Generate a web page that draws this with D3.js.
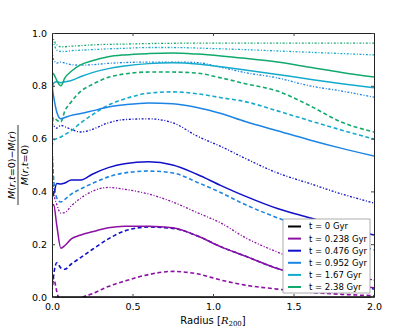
<!DOCTYPE html>
<html>
<head>
<meta charset="utf-8">
<script src="https://cdn.jsdelivr.net/npm/d3@7"></script>
<style>
  body { margin: 0; background: #fff; }
  text { font-family: "DejaVu Sans", sans-serif; }
</style>
</head>
<body>
<div id="chart"></div>
<script>
// set the dimensions and margins of the graph
var width = 415,
  height = 332;
var margin = { top: 33, right: 41, bottom: 35, left: 52 };

// radius grid (R200) shared by all curves
var radius = [0, 0.01, 0.03, 0.055, 0.08, 0.12, 0.18, 0.25, 0.35, 0.45, 0.6, 0.75, 0.9, 1.05, 1.2, 1.4, 1.6, 1.8, 2.0];

// snapshot times and their colours
var times = ["0", "0.238", "0.476", "0.952", "1.67", "2.38"];
var colors = ["#000000", "#8c10a4", "#1010c8", "#1c84e4", "#14aacb", "#12a96c"];

// solid curves, one row per time
var solidValues = [
  [0, 0, 0, 0, 0, 0, 0, 0, 0, 0, 0, 0, 0, 0, 0, 0, 0, 0, 0],
  [0.34, 0.35, 0.27, 0.185, 0.195, 0.22, 0.235, 0.247, 0.262, 0.268, 0.268, 0.262, 0.232, 0.19, 0.155, 0.108, 0.075, 0.05, 0.035],
  [0.375, 0.39, 0.43, 0.428, 0.432, 0.443, 0.443, 0.465, 0.49, 0.505, 0.512, 0.5, 0.465, 0.422, 0.382, 0.335, 0.3, 0.265, 0.235],
  [0.8, 0.76, 0.7, 0.675, 0.68, 0.688, 0.695, 0.705, 0.72, 0.728, 0.735, 0.732, 0.718, 0.695, 0.665, 0.63, 0.595, 0.563, 0.534],
  [0.78, 0.81, 0.815, 0.812, 0.815, 0.82, 0.835, 0.85, 0.865, 0.875, 0.884, 0.887, 0.883, 0.872, 0.86, 0.843, 0.825, 0.808, 0.793],
  [0.85, 0.845, 0.82, 0.8, 0.83, 0.855, 0.88, 0.895, 0.91, 0.917, 0.922, 0.924, 0.92, 0.913, 0.904, 0.89, 0.87, 0.85, 0.833]
];

// dashed curves
var dashedValues = [
  null,
  [0.06, 0.07, 0.02, -0.03, -0.05, -0.04, -0.005, 0.012, 0.04, 0.06, 0.085, 0.097, 0.088, 0.064, 0.045, 0.03, 0.018, 0.01, 0.005],
  [0.02, 0.08, 0.13, 0.11, 0.105, 0.125, 0.15, 0.18, 0.22, 0.25, 0.265, 0.26, 0.232, 0.19, 0.155, 0.108, 0.075, 0.048, 0.03],
  [0.56, 0.45, 0.375, 0.36, 0.37, 0.39, 0.41, 0.43, 0.455, 0.47, 0.477, 0.47, 0.435, 0.395, 0.35, 0.3, 0.255, 0.215, 0.178],
  [0.57, 0.595, 0.6, 0.606, 0.615, 0.63, 0.66, 0.69, 0.727, 0.75, 0.772, 0.777, 0.77, 0.755, 0.74, 0.705, 0.668, 0.632, 0.598],
  [0.64, 0.68, 0.67, 0.663, 0.705, 0.74, 0.78, 0.805, 0.832, 0.845, 0.852, 0.852, 0.848, 0.83, 0.808, 0.78, 0.725, 0.662, 0.625]
];

// dotted curves
var dottedValues = [
  null,
  [0.62, 0.4, 0.35, 0.318, 0.32, 0.345, 0.375, 0.4, 0.415, 0.408, 0.39, 0.36, 0.32, 0.28, 0.225, 0.17, 0.125, 0.09, 0.064],
  [0.66, 0.65, 0.64, 0.65, 0.645, 0.635, 0.625, 0.635, 0.66, 0.672, 0.675, 0.66, 0.61, 0.57, 0.525, 0.47, 0.43, 0.39, 0.356],
  [0.93, 0.9, 0.886, 0.89, 0.886, 0.88, 0.878, 0.88, 0.885, 0.888, 0.89, 0.89, 0.888, 0.87, 0.85, 0.83, 0.8, 0.78, 0.757],
  [0.97, 0.96, 0.935, 0.93, 0.93, 0.933, 0.935, 0.937, 0.94, 0.942, 0.945, 0.945, 0.943, 0.94, 0.937, 0.932, 0.927, 0.922, 0.917],
  [0.99, 0.975, 0.955, 0.948, 0.948, 0.95, 0.952, 0.955, 0.957, 0.958, 0.96, 0.961, 0.962, 0.962, 0.962, 0.962, 0.962, 0.962, 0.962]
];

var xTicks = [0, 0.5, 1.0, 1.5, 2.0];
var yTicks = [0, 0.2, 0.4, 0.6, 0.8, 1.0];

var svg = d3
  .select("#chart")
  .append("svg")
  .attr("width", width)
  .attr("height", height);

var x = d3.scaleLinear().domain([0, 2]).range([margin.left, width - margin.right]);
var y = d3.scaleLinear().domain([0, 1]).range([height - margin.bottom, margin.top]);

svg.append("clipPath").attr("id", "plot-clip")
  .append("rect")
  .attr("x", x(0)).attr("y", y(1))
  .attr("width", x(2) - x(0)).attr("height", y(0) - y(1));

var line = d3.line()
  .x((d, i) => x(radius[i]))
  .y((d) => y(d))
  .curve(d3.curveMonotoneX);

var curves = svg.append("g").attr("clip-path", "url(#plot-clip)");

// draw dotted, then dashed, then solid so solid sit on top
dottedValues.forEach((vals, k) => {
  if (!vals) return;
  curves.append("path").attr("d", line(vals))
    .attr("fill", "none").attr("stroke", colors[k])
    .attr("stroke-width", 1.3).attr("stroke-dasharray", "2,1.7,1,1.7");
});
dashedValues.forEach((vals, k) => {
  if (!vals) return;
  curves.append("path").attr("d", line(vals))
    .attr("fill", "none").attr("stroke", colors[k])
    .attr("stroke-width", 1.6).attr("stroke-dasharray", "4,2.6");
});
solidValues.forEach((vals, k) => {
  curves.append("path").attr("d", line(vals))
    .attr("fill", "none").attr("stroke", colors[k])
    .attr("stroke-width", 1.5);
});

// axes, ticks pointing inwards like matplotlib
var fmt = d3.format(".1f");
svg.append("g")
  .attr("transform", "translate(0," + y(0) + ")")
  .call(d3.axisBottom(x).tickValues(xTicks).tickFormat(fmt).tickSizeInner(-3).tickSizeOuter(0).tickPadding(6));
svg.append("g")
  .attr("transform", "translate(0," + y(1) + ")")
  .call(d3.axisTop(x).tickValues(xTicks).tickFormat("").tickSizeInner(-3).tickSizeOuter(0));
svg.append("g")
  .attr("transform", "translate(" + x(0) + ",0)")
  .call(d3.axisLeft(y).tickValues(yTicks).tickFormat(fmt).tickSizeInner(-3).tickSizeOuter(0).tickPadding(5));
svg.append("g")
  .attr("transform", "translate(" + x(2) + ",0)")
  .call(d3.axisRight(y).tickValues(yTicks).tickFormat("").tickSizeInner(-3).tickSizeOuter(0));

svg.selectAll(".tick text").attr("font-size", "9.5px").attr("fill", "#000")
  .attr("font-family", "DejaVu Sans");
svg.selectAll(".domain").attr("stroke", "#222");
svg.selectAll(".tick line").attr("stroke", "#444");

// x label
var xl = svg.append("text")
  .attr("x", (x(0) + x(2)) / 2)
  .attr("y", 324)
  .attr("text-anchor", "middle")
  .attr("font-size", "10px");
xl.append("tspan").text("Radius [");
xl.append("tspan").attr("font-family", "DejaVu Serif").attr("font-style", "italic").text("R");
xl.append("tspan").attr("font-size", "7px").attr("dy", 2).attr("font-family", "DejaVu Serif").text("200");
xl.append("tspan").attr("dy", -2).text("]");

// y label as a fraction
var yl = svg.append("g").attr("transform", "translate(18," + (y(0) + y(1)) / 2 + ") rotate(-90)");
var num = yl.append("text").attr("x", 0).attr("y", -3).attr("text-anchor", "middle")
  .attr("font-family", "DejaVu Serif").attr("font-size", "9.5px");
num.append("tspan").attr("font-style", "italic").text("M");
num.append("tspan").text("(");
num.append("tspan").attr("font-style", "italic").text("r");
num.append("tspan").text(",");
num.append("tspan").attr("font-style", "italic").text("t");
num.append("tspan").text("=0)\u2212");
num.append("tspan").attr("font-style", "italic").text("M");
num.append("tspan").text("(");
num.append("tspan").attr("font-style", "italic").text("r");
num.append("tspan").text(")");
yl.append("line").attr("x1", -40).attr("x2", 40).attr("y1", 0).attr("y2", 0)
  .attr("stroke", "#000").attr("stroke-width", 0.8);
var den = yl.append("text").attr("x", 0).attr("y", 9.5).attr("text-anchor", "middle")
  .attr("font-family", "DejaVu Serif").attr("font-size", "9.5px");
den.append("tspan").attr("font-style", "italic").text("M");
den.append("tspan").text("(");
den.append("tspan").attr("font-style", "italic").text("r");
den.append("tspan").text(",");
den.append("tspan").attr("font-style", "italic").text("t");
den.append("tspan").text("=0)");

// legend
var legend = svg.append("g").attr("transform", "translate(283,219)");
legend.append("rect")
  .attr("width", 87).attr("height", 74)
  .attr("fill", "#fff").attr("stroke", "#999").attr("stroke-width", 0.8);
var items = legend.selectAll("g.item")
  .data(times)
  .enter()
  .append("g")
  .attr("class", "item")
  .attr("transform", (d, i) => "translate(0," + (7.5 + i * 12.1) + ")");
items.append("line")
  .attr("x1", 5).attr("x2", 18)
  .attr("stroke", (d, i) => colors[i])
  .attr("stroke-width", 2);
items.append("text")
  .attr("x", 26)
  .attr("dy", "0.35em")
  .attr("font-size", "8.5px")
  .text((d) => "t = " + d + " Gyr");
</script>
</body>
</html>
